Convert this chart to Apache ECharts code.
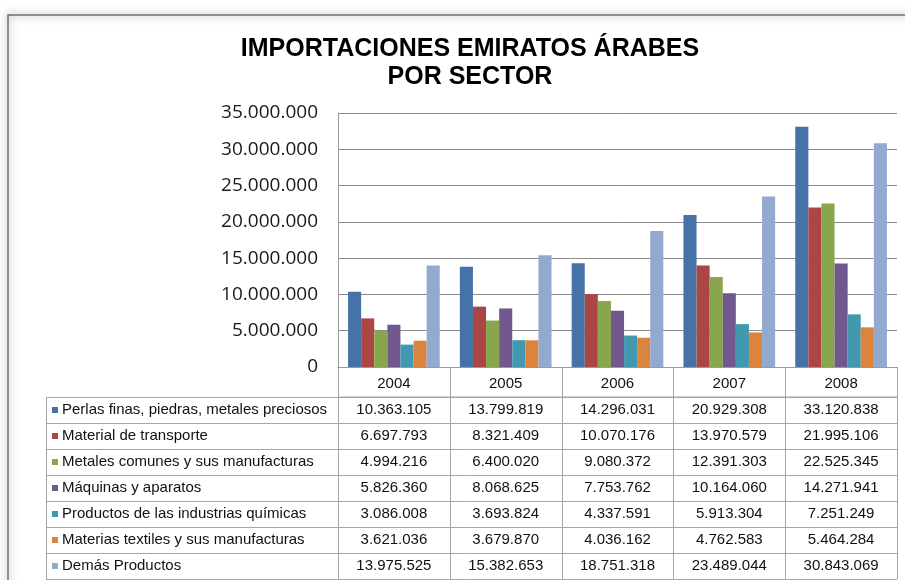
<!DOCTYPE html>
<html>
<head>
<meta charset="utf-8">
<script src="https://cdn.jsdelivr.net/npm/echarts@6/dist/echarts.min.js"></script>
<style>html,body{margin:0;padding:0;background:#fff;}#c{width:905px;height:580px;}</style>
</head>
<body>
<div id="c"></div>
<script>
const categories = ['2004', '2005', '2006', '2007', '2008'];
const seriesNames = [
  'Perlas finas, piedras, metales preciosos',
  'Material de transporte',
  'Metales comunes y sus manufacturas',
  'Máquinas y aparatos',
  'Productos de las industrias químicas',
  'Materias textiles y sus manufacturas',
  'Demás Productos'
];
const perlas = [10363105, 13799819, 14296031, 20929308, 33120838];
const transporte = [6697793, 8321409, 10070176, 13970579, 21995106];
const metales = [4994216, 6400020, 9080372, 12391303, 22525345];
const maquinas = [5826360, 8068625, 7753762, 10164060, 14271941];
const quimicos = [3086008, 3693824, 4337591, 5913304, 7251249];
const textiles = [3621036, 3679870, 4036162, 4762583, 5464284];
const demas = [13975525, 15382653, 18751318, 23489044, 30843069];
const yTicks = [0, 5000000, 10000000, 15000000, 20000000, 25000000, 30000000, 35000000];
const colors = ['#4572A7', '#AA4643', '#89A54E', '#71588F', '#4198AF', '#DB843D', '#93A9CF'];
const titleLines = ['IMPORTACIONES EMIRATOS ÁRABES', 'POR SECTOR'];

const allSeries = [perlas, transporte, metales, maquinas, quimicos, textiles, demas];
function fmt(v) { return String(v).replace(/\B(?=(\d{3})+(?!\d))/g, '.'); }

const FONT = '"Liberation Sans", Arial, sans-serif';
const chart = echarts.init(document.getElementById('c'), null, { renderer: 'canvas' });

const GRID = { left: 338, right: 8, top: 113, bottom: 213 };
chart.setOption({
  animation: false,
  backgroundColor: '#fff',
  color: colors,
  title: {
    text: titleLines.join('\n'),
    left: 465, top: 30, textAlign: 'center',
    textStyle: { fontFamily: FONT, fontSize: 25, fontWeight: 'bold', color: '#000', lineHeight: 28 }
  },
  grid: GRID,
  xAxis: {
    type: 'category',
    data: categories,
    axisLine: { show: true, lineStyle: { color: '#9a9a9a', width: 1 } },
    axisTick: { show: false },
    axisLabel: { fontFamily: FONT, fontSize: 15, color: '#111', margin: 9 }
  },
  yAxis: {
    type: 'value',
    min: yTicks[0], max: yTicks[yTicks.length - 1], interval: yTicks[1] - yTicks[0],
    axisLine: { show: true, lineStyle: { color: '#9a9a9a' } },
    axisTick: { show: false },
    splitLine: { lineStyle: { color: '#8c8c8c', width: 1 } },
    axisLabel: { fontFamily: '"Open Sans", sans-serif', fontSize: 19, color: '#1a1a1a', margin: 20, formatter: v => fmt(v) }
  },
  series: allSeries.map((d, i) => ({
    name: seriesNames[i], type: 'bar', data: d,
    barGap: '0%', barCategoryGap: '18%',
    itemStyle: { color: colors[i] }
  }))
});

// Build the data table below the plot
const x0 = chart.convertToPixel({ xAxisIndex: 0 }, categories[0]);
const x1 = chart.convertToPixel({ xAxisIndex: 0 }, categories[1]);
const band = x1 - x0;
const yZero = chart.convertToPixel({ yAxisIndex: 0 }, 0);
const headerBottom = yZero + 30;
const rowH = 26;
const tableLeft = 46;
const colLeft = x0 - band / 2;
const colRight = colLeft + band * categories.length;
const tableBottom = headerBottom + rowH * seriesNames.length;
const lineColor = '#a6a6a6';
const g = [];
g.push({
  type: 'rect', z: -1, silent: true,
  shape: { x: 8, y: 15, width: 920, height: 600 },
  style: { fill: 'none', stroke: '#6f6f6f', lineWidth: 1.5, shadowBlur: 8, shadowColor: 'rgba(0,0,0,0.55)' }
});
// horizontal lines
g.push({ type: 'line', shape: { x1: colLeft, y1: headerBottom, x2: colRight, y2: headerBottom }, style: { stroke: lineColor, lineWidth: 1 } });
for (let r = 0; r <= seriesNames.length; r++) {
  const y = Math.round(headerBottom + r * rowH) + 0.5;
  g.push({ type: 'line', shape: { x1: tableLeft, y1: y, x2: colRight, y2: y }, style: { stroke: lineColor, lineWidth: 1 } });
}
// vertical lines
for (let c = 0; c <= categories.length; c++) {
  const x = Math.round(colLeft + c * band) + 0.5;
  g.push({ type: 'line', shape: { x1: x, y1: yZero, x2: x, y2: tableBottom }, style: { stroke: lineColor, lineWidth: 1 } });
}
g.push({ type: 'line', shape: { x1: tableLeft + 0.5, y1: headerBottom, x2: tableLeft + 0.5, y2: tableBottom }, style: { stroke: lineColor, lineWidth: 1 } });
// rows
seriesNames.forEach((name, r) => {
  const cy = headerBottom + r * rowH + rowH / 2;
  g.push({ type: 'rect', shape: { x: 52, y: cy - 3, width: 6, height: 6 }, style: { fill: colors[r] } });
  g.push({ type: 'text', x: 62, y: cy, style: { text: name, font: '15px ' + FONT, fill: '#111', textVerticalAlign: 'middle', verticalAlign: 'middle' } });
  categories.forEach((cat, c) => {
    const cx = chart.convertToPixel({ xAxisIndex: 0 }, cat);
    g.push({ type: 'text', x: cx, y: cy, style: { text: fmt(allSeries[r][c]), font: '15px ' + FONT, fill: '#111', textAlign: 'center', align: 'center', textVerticalAlign: 'middle', verticalAlign: 'middle' } });
  });
});
chart.setOption({ graphic: g });
</script>
</body>
</html>
